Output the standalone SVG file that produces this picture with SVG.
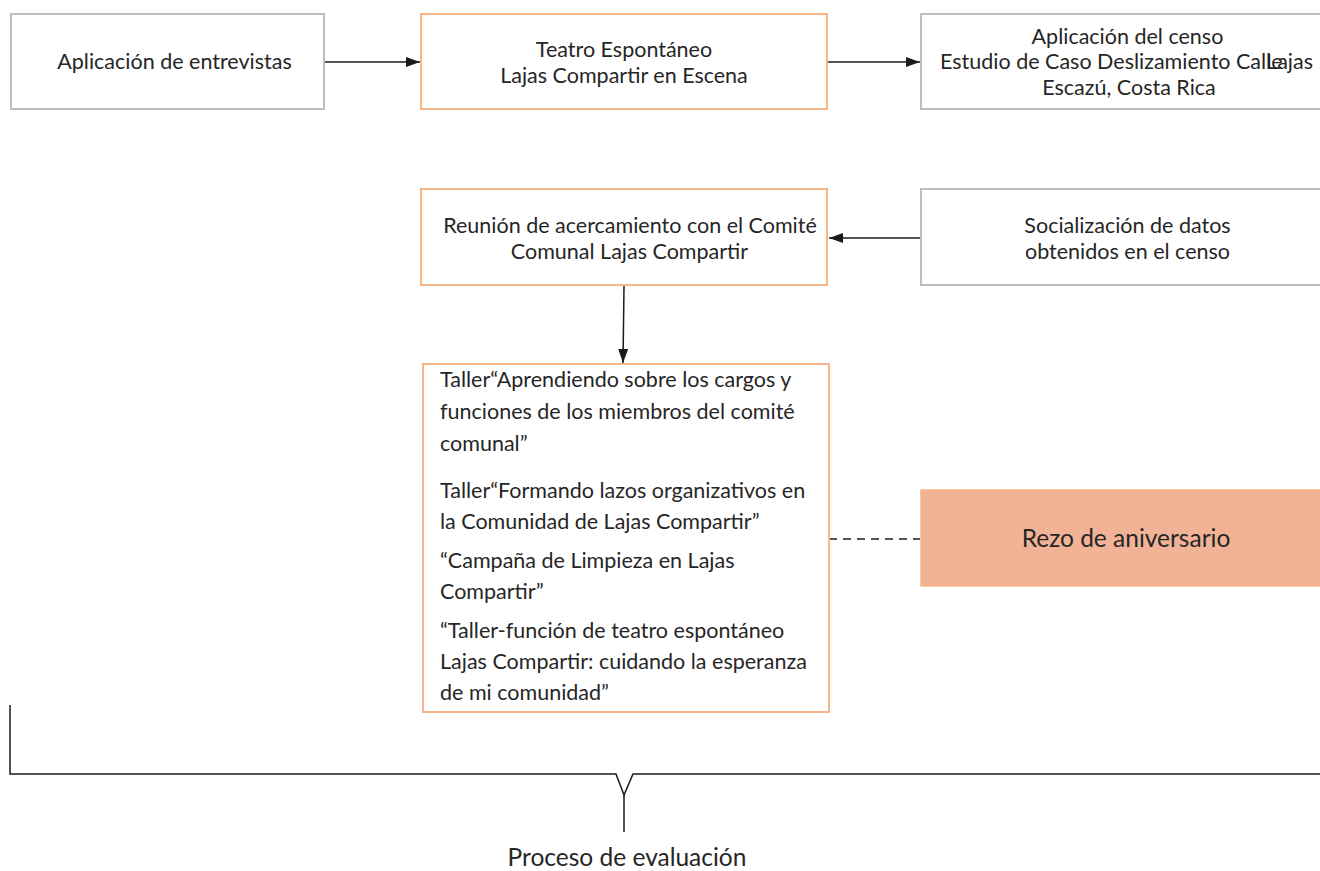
<svg xmlns="http://www.w3.org/2000/svg" width="1320" height="871" viewBox="0 0 1320 871">
<defs>
<style>
.gray{fill:#ffffff;stroke:#bfbfbf;stroke-width:2}
.org{fill:#ffffff;stroke:#f7b68a;stroke-width:2}
.fillorg{fill:#f2b296;stroke:#f7b68a;stroke-width:1.5}
text{font-family:Lato,"Open Sans","Liberation Sans",sans-serif;fill:#262626;font-size:21.5px}
.c{text-anchor:middle}
.e{text-anchor:end}
.big{font-size:24.5px}
.con{stroke:#1a1a1a;stroke-width:1.5;fill:none}
</style>
<marker id="ah" viewBox="0 0 14 10" refX="14" refY="5" markerWidth="14" markerHeight="10" markerUnits="userSpaceOnUse" orient="auto">
<path d="M0,0 L14,5 L0,10 Z" fill="#1a1a1a"/>
</marker>
</defs>
<rect width="1320" height="871" fill="#ffffff"/>

<g id="connectors">
<line class="con" x1="325" y1="62" x2="420" y2="62" marker-end="url(#ah)"/>
<line class="con" x1="828" y1="62" x2="920" y2="62" marker-end="url(#ah)"/>
<line class="con" x1="921" y1="238" x2="829" y2="238" marker-end="url(#ah)"/>
<line class="con" x1="624" y1="286" x2="623" y2="363" marker-end="url(#ah)"/>
<line class="con" x1="829" y1="539" x2="920" y2="539" stroke-dasharray="8,6"/>
</g>

<g id="n1">
<rect class="gray" x="11" y="14" width="313" height="95"/>
<text class="c" x="174.5" y="69">Aplicación de entrevistas</text>
</g>

<g id="n2">
<rect class="org" x="421" y="14" width="406" height="95"/>
<text class="c" x="624" y="57">Teatro Espontáneo</text>
<text class="c" x="624" y="83">Lajas Compartir en Escena</text>
</g>

<g id="n3">
<rect class="gray" x="921" y="14" width="412" height="95"/>
<text class="c" x="1127.5" y="44">Aplicación del censo</text>
<text x="940" y="69">Estudio de Caso Deslizamiento Calle</text>
<text class="e" x="1313" y="69">Lajas</text>
<text class="c" x="1129" y="95">Escazú, Costa Rica</text>
</g>

<g id="n4">
<rect class="org" x="421" y="189" width="406" height="96"/>
<text class="c" x="630" y="233">Reunión de acercamiento con el Comité</text>
<text class="c" x="629.5" y="259">Comunal Lajas Compartir</text>
</g>

<g id="n5">
<rect class="gray" x="921" y="189" width="412" height="96"/>
<text class="c" x="1127.5" y="233">Socialización de datos</text>
<text class="c" x="1127.5" y="259">obtenidos en el censo</text>
</g>

<g id="n6">
<rect class="org" x="423" y="364" width="406" height="348"/>
<text x="440" y="387">Taller“Aprendiendo sobre los cargos y</text>
<text x="440" y="419">funciones de los miembros del comité</text>
<text x="440" y="451">comunal”</text>
<text x="440" y="498">Taller“Formando lazos organizativos en</text>
<text x="440" y="529">la Comunidad de Lajas Compartir”</text>
<text x="440" y="568">“Campaña de Limpieza en Lajas</text>
<text x="440" y="599">Compartir”</text>
<text x="440" y="638">“Taller-función de teatro espontáneo</text>
<text x="440" y="669">Lajas Compartir: cuidando la esperanza</text>
<text x="440" y="700">de mi comunidad”</text>
</g>

<g id="n7">
<rect class="fillorg" x="921" y="490" width="412" height="96"/>
<text class="c big" x="1126" y="547">Rezo de aniversario</text>
</g>

<g id="bracket">
<path class="con" d="M10,705 L10,774 L616,774 L624,795 L633,774 L1320,774"/>
<line class="con" x1="624" y1="795" x2="624" y2="832"/>
<text class="c big" x="627" y="866">Proceso de evaluación</text>
</g>
</svg>
